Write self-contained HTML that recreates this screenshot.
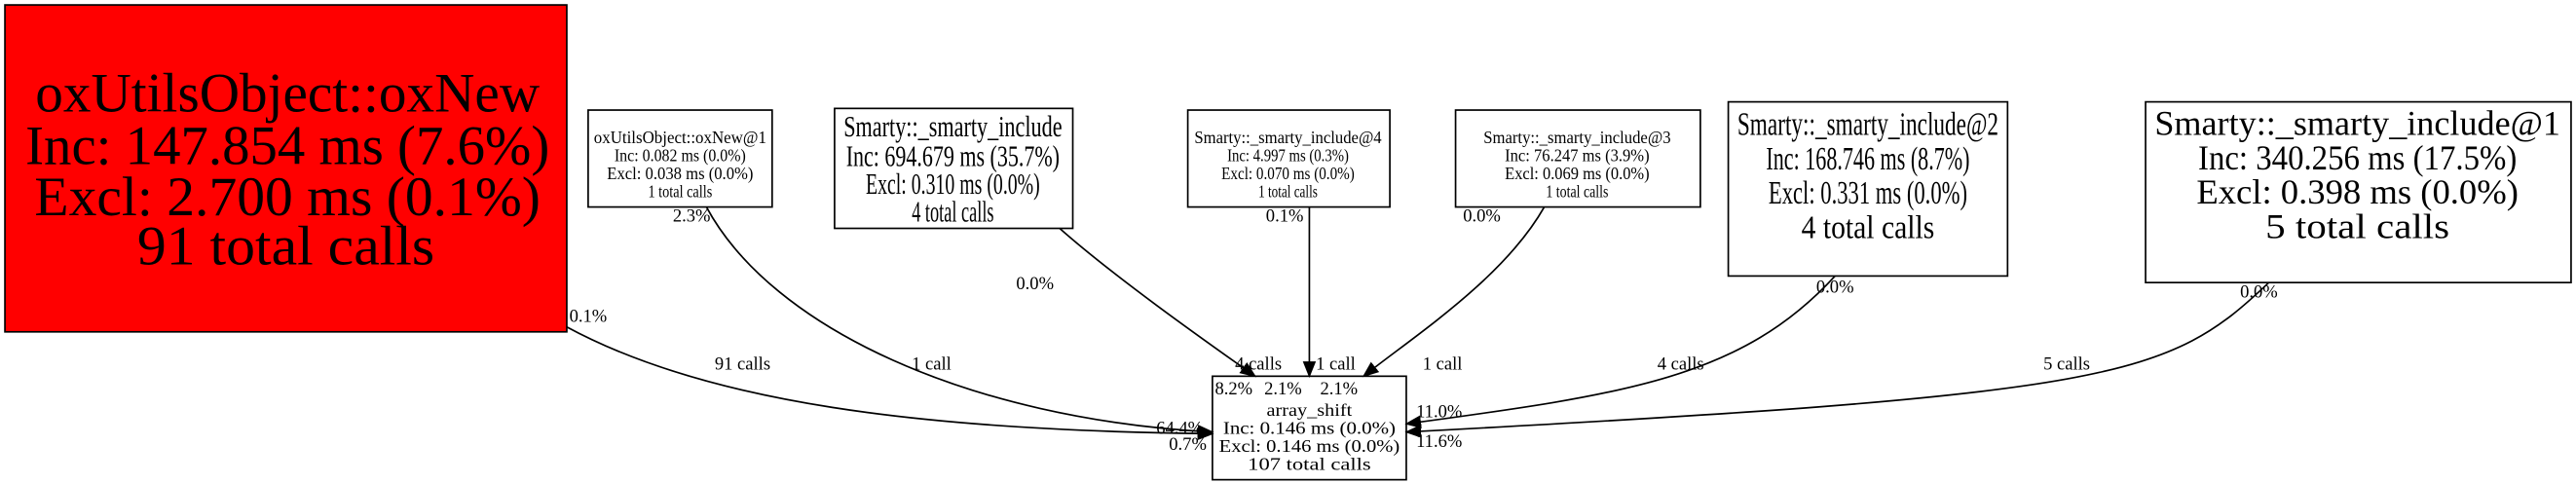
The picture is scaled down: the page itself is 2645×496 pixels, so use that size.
<!DOCTYPE html>
<html><head><meta charset="utf-8"><style>
html,body{margin:0;padding:0;background:#fff;width:2645px;height:496px;overflow:hidden}
svg{display:block}
text{font-family:"Liberation Serif",serif;text-anchor:middle;fill:#000}
.e{font-size:11px}
</style></head><body>
<svg width="2645" height="496" viewBox="0 0 1568 294" preserveAspectRatio="none">
<defs><marker id="a" markerWidth="10" markerHeight="8" refX="9" refY="4" orient="auto" markerUnits="userSpaceOnUse"><path d="M0,0 L10,4 L0,8 z" fill="#000"/></marker></defs>
<g fill="none" stroke="#000" stroke-width="1">
<rect x="3" y="3" width="342" height="199" fill="#f00"/>
<rect x="358" y="67" width="112" height="59" fill="#fff"/>
<rect x="508" y="66" width="145" height="73" fill="#fff"/>
<rect x="723" y="67" width="123" height="59" fill="#fff"/>
<rect x="886" y="67" width="149" height="59" fill="#fff"/>
<rect x="1052" y="62" width="170" height="106" fill="#fff"/>
<rect x="1306" y="62" width="259" height="110" fill="#fff"/>
<rect x="738" y="229" width="118" height="63" fill="#fff"/>
<path d="M345,199 C430,245 560,262 738,264" marker-end="url(#a)"/>
<path d="M430,126 C470,200 590,255 738,263" marker-end="url(#a)"/>
<path d="M645,139 C680,170 740,212 764,229" marker-end="url(#a)"/>
<path d="M797,126 L797,229" marker-end="url(#a)"/>
<path d="M940,126 C915,170 860,205 830,229" marker-end="url(#a)"/>
<path d="M1117,168 C1060,230 990,240 856,258" marker-end="url(#a)"/>
<path d="M1381,172 C1320,230 1290,240 856,263" marker-end="url(#a)"/>
</g>
<g font-size="34"><text x="175" y="68" textLength="307" lengthAdjust="spacingAndGlyphs">oxUtilsObject::oxNew</text><text x="175" y="100" textLength="319" lengthAdjust="spacingAndGlyphs">Inc: 147.854 ms (7.6%)</text><text x="175" y="131" textLength="308" lengthAdjust="spacingAndGlyphs">Excl: 2.700 ms (0.1%)</text><text x="174" y="161" textLength="181" lengthAdjust="spacingAndGlyphs">91 total calls</text></g>
<g font-size="10.5"><text x="414" y="87" textLength="105" lengthAdjust="spacingAndGlyphs">oxUtilsObject::oxNew@1</text><text x="414" y="98" textLength="80" lengthAdjust="spacingAndGlyphs">Inc: 0.082 ms (0.0%)</text><text x="414" y="109" textLength="89" lengthAdjust="spacingAndGlyphs">Excl: 0.038 ms (0.0%)</text><text x="414" y="120" textLength="39" lengthAdjust="spacingAndGlyphs">1 total calls</text></g>
<g font-size="18"><text x="580" y="83" textLength="133" lengthAdjust="spacingAndGlyphs">Smarty::_smarty_include</text><text x="580" y="101" textLength="130" lengthAdjust="spacingAndGlyphs">Inc: 694.679 ms (35.7%)</text><text x="580" y="118" textLength="106" lengthAdjust="spacingAndGlyphs">Excl: 0.310 ms (0.0%)</text><text x="580" y="135" textLength="50" lengthAdjust="spacingAndGlyphs">4 total calls</text></g>
<g font-size="10.5"><text x="784" y="87" textLength="114" lengthAdjust="spacingAndGlyphs">Smarty::_smarty_include@4</text><text x="784" y="98" textLength="74" lengthAdjust="spacingAndGlyphs">Inc: 4.997 ms (0.3%)</text><text x="784" y="109" textLength="81" lengthAdjust="spacingAndGlyphs">Excl: 0.070 ms (0.0%)</text><text x="784" y="120" textLength="36" lengthAdjust="spacingAndGlyphs">1 total calls</text></g>
<g font-size="10.5"><text x="960" y="87" textLength="114" lengthAdjust="spacingAndGlyphs">Smarty::_smarty_include@3</text><text x="960" y="98" textLength="88" lengthAdjust="spacingAndGlyphs">Inc: 76.247 ms (3.9%)</text><text x="960" y="109" textLength="88" lengthAdjust="spacingAndGlyphs">Excl: 0.069 ms (0.0%)</text><text x="960" y="120" textLength="38" lengthAdjust="spacingAndGlyphs">1 total calls</text></g>
<g font-size="20"><text x="1137" y="82" textLength="159" lengthAdjust="spacingAndGlyphs">Smarty::_smarty_include@2</text><text x="1137" y="103" textLength="124" lengthAdjust="spacingAndGlyphs">Inc: 168.746 ms (8.7%)</text><text x="1137" y="124" textLength="121" lengthAdjust="spacingAndGlyphs">Excl: 0.331 ms (0.0%)</text><text x="1137" y="145" textLength="81" lengthAdjust="spacingAndGlyphs">4 total calls</text></g>
<g font-size="21"><text x="1435" y="82" textLength="247" lengthAdjust="spacingAndGlyphs">Smarty::_smarty_include@1</text><text x="1435" y="103" textLength="194" lengthAdjust="spacingAndGlyphs">Inc: 340.256 ms (17.5%)</text><text x="1435" y="124" textLength="196" lengthAdjust="spacingAndGlyphs">Excl: 0.398 ms (0.0%)</text><text x="1435" y="145" textLength="112" lengthAdjust="spacingAndGlyphs">5 total calls</text></g>
<g font-size="10.5"><text x="797" y="253" textLength="52" lengthAdjust="spacingAndGlyphs">array_shift</text><text x="797" y="264" textLength="105" lengthAdjust="spacingAndGlyphs">Inc: 0.146 ms (0.0%)</text><text x="797" y="275" textLength="110" lengthAdjust="spacingAndGlyphs">Excl: 0.146 ms (0.0%)</text><text x="797" y="286" textLength="75" lengthAdjust="spacingAndGlyphs">107 total calls</text></g>
<g class="e">
<text x="358" y="196">0.1%</text><text x="452" y="225">91 calls</text><text x="718" y="264">64.4%</text><text x="723" y="274">0.7%</text>
<text x="421" y="135">2.3%</text><text x="567" y="225">1 call</text>
<text x="630" y="176">0.0%</text><text x="766" y="225">4 calls</text><text x="751" y="240">8.2%</text>
<text x="782" y="135">0.1%</text><text x="813" y="225">1 call</text><text x="781" y="240">2.1%</text><text x="815" y="240">2.1%</text>
<text x="902" y="135">0.0%</text><text x="878" y="225">1 call</text>
<text x="1117" y="178">0.0%</text><text x="1023" y="225">4 calls</text><text x="876" y="254">11.0%</text>
<text x="1375" y="181">0.0%</text><text x="1258" y="225">5 calls</text><text x="876" y="272">11.6%</text>
</g>
</svg>
</body></html>
